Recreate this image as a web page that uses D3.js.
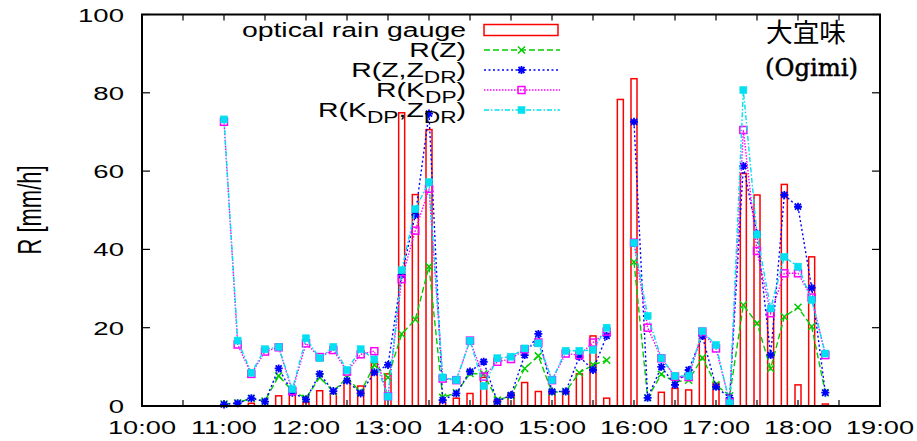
<!DOCTYPE html>
<html><head><meta charset="utf-8">
<script src="https://cdn.jsdelivr.net/npm/d3@7"></script>
<style>body{margin:0;background:#fff}svg{display:block}</style>
</head><body><svg id="c" width="917" height="441"></svg>
<script>
const times = ["11:00","11:10","11:20","11:30","11:40","11:50","12:00","12:10","12:20","12:30","12:40","12:50",
"13:00","13:10","13:20","13:30","13:40","13:50","14:00","14:10","14:20","14:30","14:40","14:50",
"15:00","15:10","15:20","15:30","15:40","15:50","16:00","16:10","16:20","16:30","16:40","16:50",
"17:00","17:10","17:20","17:30","17:40","17:50","18:00","18:10","18:20"];
const gauge = [0,0,0.7,0,2.6,3.2,0.9,3.9,3.2,6.2,5.1,11.1,
8.2,74.9,54.0,70.6,1.0,2.0,3.2,7.3,1.5,3.2,6.0,3.7,
3.7,3.7,8.2,17.9,2.0,78.3,83.6,0,3.5,4.5,4.1,17.3,
5.8,0,59.4,53.9,24.7,56.6,5.4,38.1,0.5];
const rZ = [0.5,0.8,2.0,1.3,7.7,3.8,2.0,7.3,3.7,7.3,3.5,10.5,
7.3,18.4,22.1,35.6,2.2,3.4,8.3,8.2,1.5,2.6,9.6,12.8,
3.5,3.7,8.5,10.5,11.7,null,36.8,2.1,8.1,6.2,6.6,12.3,
5.4,2.6,25.8,21.1,9.6,22.8,25.2,20.3,3.4];
const rZZdr = [0.4,0.7,2.0,1.1,9.6,3.4,1.7,8.2,3.8,6.5,3.2,8.6,
10.5,33.5,48.8,74.7,1.5,3.2,8.8,11.3,1.1,2.8,13.0,18.4,
3.7,3.7,12.6,9.2,17.9,null,72.6,2.1,10.0,5.4,9.2,17.9,
4.9,2.1,61.3,44.0,13.0,53.9,50.9,30.2,3.4];
const rKdp = [72.6,15.7,8.2,13.9,15.0,3.8,16.0,12.5,14.3,8.8,13.2,14.0,
2.5,32.4,44.8,55.5,7.0,6.6,16.7,7.5,11.3,12.0,14.5,16.2,
6.6,13.4,13.0,16.2,19.0,null,41.7,20.0,12.2,7.5,7.4,19.0,
14.7,0.9,70.5,39.6,23.7,33.9,33.9,27.7,13.0];
const rKdpZdr = [73.2,16.7,8.5,14.5,15.1,4.3,17.3,12.2,15.1,9.2,14.5,11.9,
2.4,34.7,50.3,57.2,7.3,6.6,16.7,5.1,12.2,12.6,14.7,16.0,
6.6,14.1,14.1,14.3,20.0,null,41.7,23.0,12.2,7.7,7.7,19.1,
15.6,0.7,80.7,43.8,24.9,38.1,35.6,27.1,13.4];
const xTickLabels = ["10:00","11:00","12:00","13:00","14:00","15:00","16:00","17:00","18:00","19:00"];
const yTicks = [0,20,40,60,80,100];
const legendLabels = ["optical rain gauge","R(Z)","R(Z,Z|DR|)","R(K|DP|)","R(K|DP|,Z|DR|)"];

const toMin = s => { const [h,m] = s.split(":").map(Number); return h*60+m; };
const svg = d3.select("#c");
const L = 142, R = 880, T = 14.5, B = 406;
const x = d3.scaleLinear().domain([toMin("10:00"), toMin("19:00")]).range([L, R]);
const y = d3.scaleLinear().domain([0, 100]).range([B, T]);

const COL = {red:"#ff0000", green:"#00cc00", blue:"#0000ff", mag:"#ff00ff", cyan:"#00e0f0"};
const FONT = "'Liberation Sans', Arial, Helvetica, sans-serif";

function stretchedText(g, px, py, str, size, sx, anchor, rot) {
  const grp = g.append("g").attr("transform", `translate(${px},${py}) scale(${sx},1)` + (rot ? ` rotate(${rot})` : ""));
  const t = grp.append("text").attr("font-family", FONT).attr("font-size", size)
    .attr("text-anchor", anchor).attr("fill", "#000");
  const parts = str.split("|");
  parts.forEach((p, i) => {
    if (!p) return;
    const sub = i % 2 === 1;
    const ts = t.append("tspan").text(p);
    if (sub) ts.attr("font-size", size*0.8).attr("dy", size*0.3);
    else if (i > 0) ts.attr("dy", -size*0.3);
  });
  return t;
}

// axes ticks (inward, mirrored)
const axes = svg.append("g");
const halfHours = d3.range(toMin("10:00"), toMin("19:00")+1, 30);
halfHours.forEach(m => {
  axes.append("line").attr("x1", x(m)).attr("x2", x(m)).attr("y1", B).attr("y2", B-6).attr("stroke","#000").attr("stroke-width",1.2);
  axes.append("line").attr("x1", x(m)).attr("x2", x(m)).attr("y1", T).attr("y2", T+6).attr("stroke","#000").attr("stroke-width",1.2);
});
yTicks.forEach(v => {
  axes.append("line").attr("x1", L).attr("x2", L+8).attr("y1", y(v)).attr("y2", y(v)).attr("stroke","#000").attr("stroke-width",1.2);
  axes.append("line").attr("x1", R).attr("x2", R-8).attr("y1", y(v)).attr("y2", y(v)).attr("stroke","#000").attr("stroke-width",1.2);
  stretchedText(axes, 124, y(v)+7, String(v), 19, 1.45, "end");
});
xTickLabels.forEach(s => {
  stretchedText(axes, x(toMin(s)), 433.5, s, 19, 1.43, "middle");
});
stretchedText(axes, 41, 210, "R [mm/h]", 22, 1.55, "middle", -90);

// bars
const bw = 6;
svg.append("g").selectAll("rect").data(gauge.map((v,i)=>({t:toMin(times[i]), v})).filter(d=>d.v>0))
  .join("rect")
  .attr("x", d => x(d.t)-bw/2).attr("y", d => y(d.v))
  .attr("width", bw).attr("height", d => y(0)-y(d.v))
  .attr("fill","none").attr("stroke", COL.red).attr("stroke-width",1.5);

const series = [
  {vals: rZ, col: COL.green, dash: "6,3", marker: "x"},
  {vals: rZZdr, col: COL.blue, dash: "2,2.5", marker: "star"},
  {vals: rKdp, col: COL.mag, dash: "1.5,1.5", marker: "osq"},
  {vals: rKdpZdr, col: COL.cyan, dash: "5,2,1.5,2", marker: "fsq"}
];
const line = d3.line().defined(d => d.v != null).x(d => x(d.t)).y(d => y(d.v));

function drawMarker(g, cx, cy, type, col) {
  if (type === "x") {
    g.append("path").attr("d", `M${cx-3.5},${cy-3.5}L${cx+3.5},${cy+3.5}M${cx-3.5},${cy+3.5}L${cx+3.5},${cy-3.5}`)
      .attr("stroke", col).attr("stroke-width", 1.5).attr("fill","none");
  } else if (type === "star") {
    g.append("path").attr("d", `M${cx-4},${cy}L${cx+4},${cy}M${cx},${cy-4}L${cx},${cy+4}M${cx-3},${cy-3}L${cx+3},${cy+3}M${cx-3},${cy+3}L${cx+3},${cy-3}`)
      .attr("stroke", col).attr("stroke-width", 1.8).attr("fill","none");
  } else if (type === "osq") {
    g.append("rect").attr("x", cx-3.5).attr("y", cy-3.5).attr("width",7).attr("height",7)
      .attr("fill","none").attr("stroke", col).attr("stroke-width",1.5);
  } else {
    g.append("rect").attr("x", cx-3.5).attr("y", cy-3.5).attr("width",7).attr("height",7)
      .attr("fill", col).attr("stroke", col).attr("stroke-width",0.5);
  }
}

series.forEach(s => {
  const data = s.vals.map((v,i)=>({t: toMin(times[i]), v}));
  const g = svg.append("g");
  g.append("path").datum(data).attr("d", line).attr("fill","none")
    .attr("stroke", s.col).attr("stroke-width", 1.4).attr("stroke-dasharray", s.dash);
  data.filter(d => d.v != null).forEach(d => drawMarker(g, x(d.t), y(d.v), s.marker, s.col));
});

// legend
const lg = svg.append("g");
const rowsY = [30, 50, 70, 90, 110];
legendLabels.forEach((lab, i) => {
  stretchedText(lg, 466, rowsY[i]+7, lab, 20, 1.42, "end");
  if (i === 0) {
    lg.append("rect").attr("x", 484).attr("y", rowsY[i]-5.5).attr("width", 74).attr("height", 11)
      .attr("fill","none").attr("stroke", COL.red).attr("stroke-width",1.5);
  } else {
    const s = series[i-1];
    lg.append("line").attr("x1", 484).attr("x2", 560).attr("y1", rowsY[i]).attr("y2", rowsY[i])
      .attr("stroke", s.col).attr("stroke-width",1.4).attr("stroke-dasharray", s.dash);
    drawMarker(lg, 521.5, rowsY[i], s.marker, s.col);
  }
});

// station label
svg.append("text").attr("x", 766).attr("y", 42).attr("font-family","'Noto Sans CJK JP'")
  .attr("font-size", 26).attr("textLength", 80).attr("lengthAdjust","spacingAndGlyphs").text("大宜味");
svg.append("text").attr("x", 765).attr("y", 76).attr("font-family","'DejaVu Serif', 'Liberation Serif', serif")
  .attr("font-size", 24).attr("font-weight","normal").attr("stroke","#000").attr("stroke-width",0.5)
  .attr("textLength", 93).attr("lengthAdjust","spacingAndGlyphs").text("(Ogimi)");

// frame
svg.append("rect").attr("x", L).attr("y", T).attr("width", R-L).attr("height", B-T)
  .attr("fill","none").attr("stroke","#000").attr("stroke-width",2);
</script></body></html>
